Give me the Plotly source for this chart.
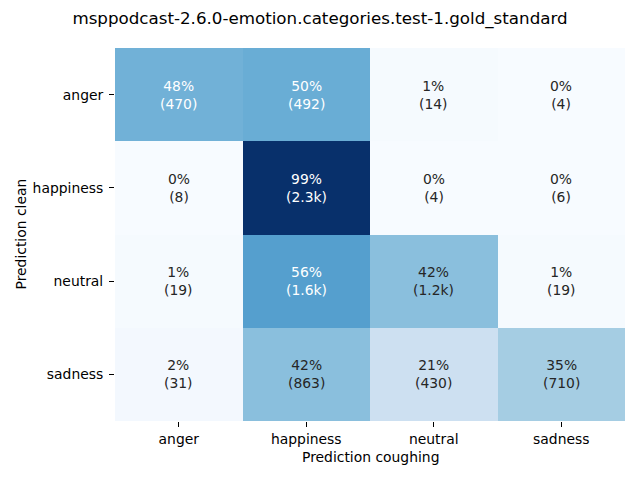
import plotly.graph_objects as go

title = "msppodcast-2.6.0-emotion.categories.test-1.gold_standard"
categories = ["anger", "happiness", "neutral", "sadness"]
x_label = "Prediction coughing"
y_label = "Prediction clean"

# rows: Prediction clean, columns: Prediction coughing
percent = [
    [48, 50, 1, 0],
    [0, 99, 0, 0],
    [1, 56, 42, 1],
    [2, 42, 21, 35],
]
count_labels = [
    ["470", "492", "14", "4"],
    ["8", "2.3k", "4", "6"],
    ["19", "1.6k", "1.2k", "19"],
    ["31", "863", "430", "710"],
]

# matplotlib "Blues"
blues_hex = ["#f7fbff", "#deebf7", "#c6dbef", "#9ecae1", "#6baed6",
             "#4292c6", "#2171b5", "#08519c", "#08306b"]
colorscale = [[i / 8, c] for i, c in enumerate(blues_hex)]
vmax = max(max(r) for r in percent)

FS = 13.9
FS_TITLE = 16.7


def hex_rgb(h):
    h = h.lstrip("#")
    return tuple(int(h[i:i + 2], 16) / 255 for i in (0, 2, 4))


def color_at(t):
    t = min(max(t, 0), 1) * 8
    i = min(int(t), 7)
    f = t - i
    a, b = hex_rgb(blues_hex[i]), hex_rgb(blues_hex[i + 1])
    return tuple(a[k] + (b[k] - a[k]) * f for k in range(3))


def lum(rgb):
    def ch(c):
        return c / 12.92 if c <= 0.03928 else ((c + 0.055) / 1.055) ** 2.4
    r, g, b = (ch(c) for c in rgb)
    return 0.2126 * r + 0.7152 * g + 0.0722 * b


fig = go.Figure(go.Heatmap(
    z=percent, x=categories, y=categories,
    colorscale=colorscale, zmin=0, zmax=vmax,
    showscale=False, hoverinfo="skip", xgap=0, ygap=0,
))

annotations = []
for i, row_name in enumerate(categories):
    for j, col_name in enumerate(categories):
        c = color_at(percent[i][j] / vmax)
        txt_color = "#ffffff" if lum(c) < 0.408 else "#262626"
        annotations.append(dict(
            x=col_name, y=row_name, xref="x", yref="y",
            text=f"{percent[i][j]}%<br>({count_labels[i][j]})",
            showarrow=False,
            font=dict(family="DejaVu Sans", size=FS, color=txt_color),
        ))

annotations.append(dict(
    text=y_label, xref="paper", yref="paper", x=0, y=0.5,
    xshift=-95, textangle=-90, showarrow=False,
    xanchor="center", yanchor="middle",
    font=dict(family="DejaVu Sans", size=FS, color="#000000"),
))
annotations.append(dict(
    text=x_label, xref="paper", yref="paper", x=0.5, y=0,
    yshift=-36, showarrow=False, xanchor="center", yanchor="middle",
    font=dict(family="DejaVu Sans", size=FS, color="#000000"),
))

fig.update_layout(
    width=640, height=480,
    margin=dict(l=115, r=15, t=48, b=59),
    paper_bgcolor="white", plot_bgcolor="white",
    title=dict(text=title, x=0.5, xref="container", xanchor="center",
               y=1 - 18 / 480, yref="container", yanchor="middle",
               font=dict(family="DejaVu Sans", size=FS_TITLE, color="#000000")),
    annotations=annotations,
    font=dict(family="DejaVu Sans", size=FS, color="#000000"),
)
fig.update_xaxes(
    type="category", range=[-0.5, 3.5], showgrid=False, zeroline=False,
    ticks="outside", ticklen=5, tickwidth=1, tickcolor="#000000",
    showline=False, tickfont=dict(family="DejaVu Sans", size=FS, color="#000000"),
)
fig.update_yaxes(
    type="category", range=[3.5, -0.5], showgrid=False, zeroline=False,
    ticks="outside", ticklen=5, tickwidth=1, tickcolor="#000000",
    ticklabelstandoff=3,
    showline=False, tickfont=dict(family="DejaVu Sans", size=FS, color="#000000"),
)

fig.write_html(
    "out.html",
    config={"displayModeBar": False},
    post_script="document.body.style.margin='0';document.body.style.padding='0';",
)
